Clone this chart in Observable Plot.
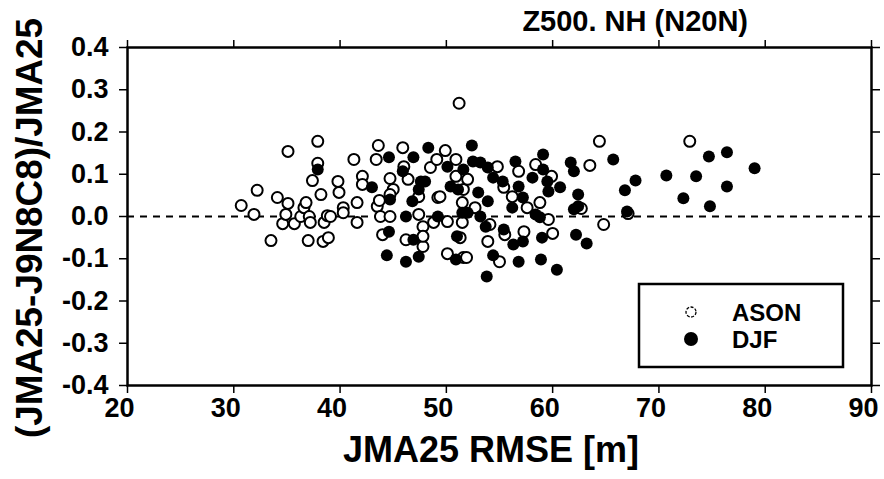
<!DOCTYPE html>
<html><head><meta charset="utf-8">
<script src="https://cdn.jsdelivr.net/npm/d3@7"></script>
<script src="https://cdn.jsdelivr.net/npm/@observablehq/plot@0.6"></script>
<style>body{margin:0;background:#fff;} #chart{position:relative;width:884px;height:479px;}</style>
</head><body><div id="chart"></div>
<script>
// ASON (open circles)
const asonX = [30.7,31.9,32.2,33.5,34.1,34.6,34.9,35.1,35.1,35.7,36.3,36.6,36.8,37.0,37.1,37.2,37.4,37.9,37.9,38.2,38.4,38.5,38.8,38.9,39.1,39.8,39.9,40.3,40.3,41.3,41.6,41.6,42.1,42.1,43.4,43.6,43.5,43.7,43.8,44.0,44.7,45.0,44.7,44.7,45.9,46.0,46.2,46.4,47.4,47.4,47.8,47.8,47.8,48.5,48.8,49.1,49.2,49.4,49.9,50.1,50.1,50.9,50.9,51.2,51.5,51.5,51.6,51.9,51.6,52.0,51.3,52.7,53.9,54.1,54.8,55.0,55.4,55.5,56.2,56.8,57.3,57.6,58.4,58.8,59.6,59.9,60.0,62.7,63.5,64.4,64.8,67.1,72.9];
const asonY = [0.026,0.005,0.062,-0.057,0.045,-0.017,0.005,0.031,0.154,-0.017,0.0,0.021,0.033,-0.057,0.0,-0.014,0.085,0.178,0.126,0.052,-0.059,-0.014,0.002,-0.050,0.0,0.083,0.057,0.021,0.009,0.135,0.033,-0.014,0.095,0.076,0.135,0.168,0.024,0.038,0.0,-0.043,0.090,0.064,0.052,0.0,0.163,0.118,-0.055,0.088,0.047,0.005,-0.071,-0.024,-0.047,0.116,-0.014,0.135,0.045,0.047,0.156,-0.012,-0.088,0.135,0.095,0.268,0.033,-0.014,-0.097,-0.097,0.064,0.088,-0.050,0.021,-0.059,-0.019,0.118,-0.107,0.069,-0.043,0.047,0.107,-0.036,0.021,0.123,0.033,-0.007,0.095,-0.040,0.019,0.121,0.178,-0.019,0.007,0.178];
// DJF (filled circles)
const djfX = [37.9,43.0,44.6,44.7,44.6,44.4,46.2,46.2,45.9,46.9,46.9,46.8,47.4,47.4,47.6,48.0,48.3,49.2,50.1,50.4,50.9,51.0,51.1,51.5,51.6,52.0,52.4,52.5,53.0,53.2,53.2,53.7,53.8,53.9,53.9,54.4,54.4,55.3,55.4,56.3,56.2,56.5,56.8,56.8,57.2,57.2,58.1,58.4,58.8,58.9,59.0,59.1,59.1,59.5,59.6,60.4,60.7,61.7,62.0,62.0,62.2,62.4,62.4,63.2,65.7,66.8,67.0,67.8,70.7,72.3,73.5,74.7,74.8,76.4,76.4,79.0];
const djfY = [0.111,0.069,0.140,0.040,-0.036,-0.092,0.0,-0.107,0.107,0.140,-0.055,0.036,0.064,-0.095,0.083,0.083,0.163,0.0,0.118,0.071,-0.102,-0.047,0.064,0.009,0.111,0.009,0.168,0.130,0.057,0.128,0.0,-0.024,-0.142,0.116,0.036,0.092,-0.092,0.083,-0.031,-0.066,0.021,0.130,0.071,-0.107,0.045,-0.059,0.092,0.005,-0.002,-0.102,-0.050,0.147,0.111,0.083,0.059,-0.126,0.069,0.128,0.107,0.017,-0.043,0.052,0.024,-0.064,0.135,0.062,0.012,0.085,0.097,0.043,0.095,0.142,0.024,0.152,0.071,0.114];
const xTicks = [20,30,40,50,60,70,80,90];
const yTicks = [-0.4,-0.3,-0.2,-0.1,0.0,0.1,0.2,0.3,0.4];
const seriesNames = ["ASON","DJF"];
const titleText = "Z500. NH (N20N)";
const xLabel = "JMA25 RMSE [m]";
const yLabel = "(JMA25-J9N8C8)/JMA25";

const ason = asonX.map((x,i)=>({x, y: asonY[i]}));
const djf = djfX.map((x,i)=>({x, y: djfY[i]}));

const font = "'Liberation Sans', Arial, Helvetica, sans-serif";
const plot = Plot.plot({
  width: 884, height: 479,
  marginLeft: 127, marginRight: 13, marginTop: 47, marginBottom: 94,
  style: {fontFamily: font, fontWeight: "bold", background: "white", color: "black", overflow: "hidden"},
  x: {domain: [20, 90], label: null},
  y: {domain: [-0.4, 0.4], label: null},
  marks: [
    Plot.ruleY([0], {stroke: "black", strokeWidth: 2, strokeDasharray: "7,6"}),
    Plot.dot(ason, {x: "x", y: "y", r: 5.5, stroke: "black", strokeWidth: 2, fill: "white"}),
    Plot.dot(djf, {x: "x", y: "y", r: 6, fill: "black", stroke: "none"}),
    Plot.frame({stroke: "black", strokeWidth: 2.5}),
    // bottom ticks and (slightly left-shifted) labels
    Plot.axisX({ticks: xTicks, tickSize: 8, tickFormat: () => "", label: null, strokeWidth: 1.5}),
    Plot.axisX({ticks: xTicks, tickSize: 0, tickPadding: 12, fontSize: 27, fontWeight: "bold", dx: -8, tickFormat: d => String(d), label: null}),
    Plot.axisX({anchor: "top", ticks: xTicks, tickSize: 8, tickFormat: () => "", label: null, strokeWidth: 1.5}),
    Plot.axisY({ticks: yTicks, tickSize: 8, tickPadding: 11, fontSize: 27, fontWeight: "bold", tickFormat: d => d.toFixed(1), label: null, strokeWidth: 1.5}),
    Plot.axisY({anchor: "right", ticks: yTicks, tickSize: 8, tickFormat: () => "", label: null, strokeWidth: 1.5})
  ]
});
document.getElementById("chart").appendChild(plot);

const svg = d3.select(plot);
// Title
svg.append("text").attr("x", 748).attr("y", 31).attr("text-anchor", "end")
  .attr("font-family", font).attr("font-weight", "bold").attr("font-size", 29).attr("fill", "black").text(titleText);
// Axis titles
svg.append("text").attr("x", 491).attr("y", 462).attr("text-anchor", "middle")
  .attr("font-family", font).attr("font-weight", "bold").attr("font-size", 36).attr("fill", "black").text(xLabel);
svg.append("text").attr("transform", "translate(42,228) rotate(-90)").attr("text-anchor", "middle")
  .attr("font-family", font).attr("font-weight", "bold").attr("font-size", 37).attr("fill", "black")
  .attr("textLength", 420).attr("lengthAdjust", "spacingAndGlyphs").text(yLabel);
// Legend
const lg = svg.append("g");
lg.append("rect").attr("x", 639).attr("y", 284).attr("width", 204).attr("height", 83)
  .attr("fill", "white").attr("stroke", "black").attr("stroke-width", 2.5);
lg.append("circle").attr("cx", 691).attr("cy", 312).attr("r", 5).attr("fill", "white")
  .attr("stroke", "black").attr("stroke-width", 1.3).attr("stroke-dasharray", "3,1.5");
lg.append("circle").attr("cx", 691).attr("cy", 339).attr("r", 7).attr("fill", "black");
lg.append("text").attr("x", 732).attr("y", 321).attr("text-anchor", "start").attr("font-family", font)
  .attr("font-weight", "bold").attr("font-size", 24).attr("fill", "black").text(seriesNames[0]);
lg.append("text").attr("x", 732).attr("y", 348).attr("text-anchor", "start").attr("font-family", font)
  .attr("font-weight", "bold").attr("font-size", 24).attr("fill", "black").text(seriesNames[1]);
</script>
</body></html>
